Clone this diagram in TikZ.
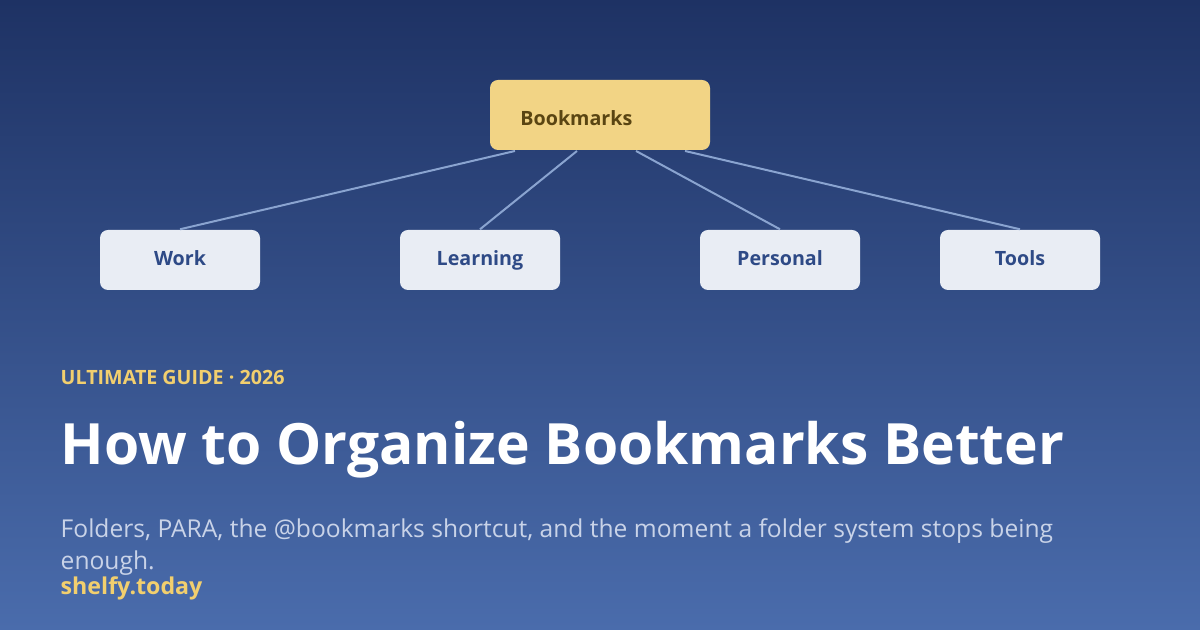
\documentclass[tikz,border=0pt]{standalone}
\usepackage{fontspec}
\setmainfont{Open Sans}
\usepackage{tikz}
\usetikzlibrary{positioning}
\definecolor{topblue}{HTML}{1E3264}
\definecolor{botblue}{HTML}{4A6CAC}
\definecolor{rootfill}{HTML}{F2D485}
\definecolor{roottext}{HTML}{5A4512}
\definecolor{leaffill}{HTML}{E9EDF4}
\definecolor{leaftext}{HTML}{2E4A86}
\definecolor{linkblue}{HTML}{8AA4D0}
\definecolor{accent}{HTML}{F2CF6E}
\definecolor{subtext}{HTML}{C9D3E8}
\tikzset{
  root/.style = {fill=rootfill, rounded corners=0.8mm, minimum width=22mm, minimum height=7mm, inner sep=0},
  leaf/.style = {fill=leaffill, rounded corners=0.8mm, minimum width=16mm, minimum height=6mm,
    text height=1.5mm, text depth=0.4mm, text=leaftext, font=\fontsize{5.6}{6.5}\selectfont\bfseries},
  link/.style = {draw=linkblue, line width=0.2mm}
}
\begin{document}
\begin{tikzpicture}[x=0.1mm, y=0.1mm]
	\shade[top color=topblue, bottom color=botblue] (0,0) rectangle (1200,630);
	\useasboundingbox (0,0) rectangle (1200,630);

    % tree
    \node[root] (bookmarks) at (600,515) {};
    \node[anchor=west, text=roottext, font=\fontsize{5.6}{6.5}\selectfont\bfseries] at (508,512) {Bookmarks};
    \node[leaf] (work) at (180,370) {Work};
    \node[leaf] (learning) at (480,370) {Learning};
    \node[leaf] (personal) at (780,370) {Personal};
    \node[leaf] (tools) at (1020,370) {Tools};

    \coordinate (s1) at (515,479);
    \coordinate (s2) at (577,479);
    \coordinate (s3) at (636,479);
    \coordinate (s4) at (685,479);
    \draw[link] (s1) -- (work.north);
    \draw[link] (s2) -- (learning.north);
    \draw[link] (s3) -- (personal.north);
    \draw[link] (s4) -- (tools.north);

    % text block
    \node[anchor=base west, inner sep=0, text=accent, font=\fontsize{5.6}{6.5}\selectfont\bfseries] (kicker) at (60,245) {ULTIMATE GUIDE · 2026};
    \node[anchor=base west, inner sep=0, text=white, font=\fontsize{16.2}{19}\selectfont\bfseries] (title) at (60,165) {How to Organize Bookmarks Better};
    \node[anchor=base west, inner sep=0, text=subtext, font=\fontsize{7}{9.4}\selectfont] (sub) at (60,92) {Folders, PARA, the @bookmarks shortcut, and the moment a folder system stops being};
    \node[anchor=base west, inner sep=0, text=subtext, font=\fontsize{7}{9.4}\selectfont] (sub2) at (60,60) {enough.};
    \node[anchor=base west, inner sep=0, text=accent, font=\fontsize{6.6}{9.4}\selectfont\bfseries] (site) at (60,35) {shelfy.today};

\end{tikzpicture}
\end{document}
